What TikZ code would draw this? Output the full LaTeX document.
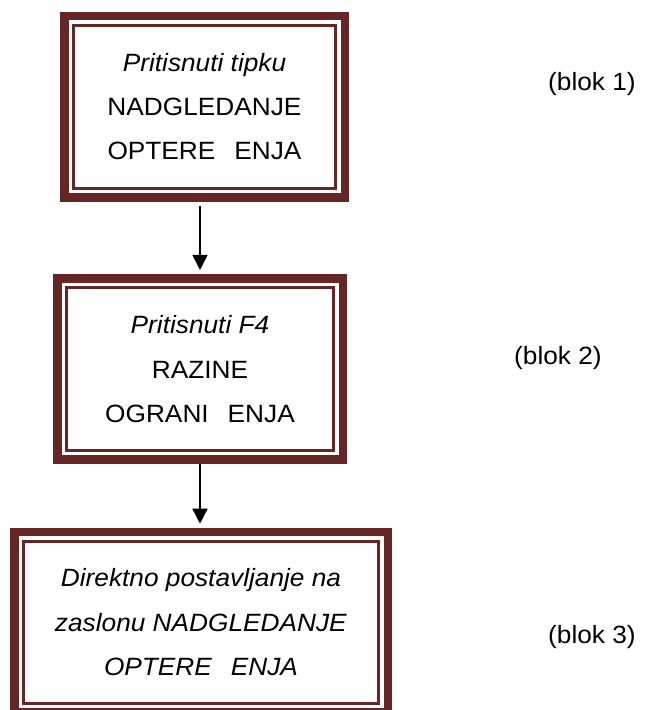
\documentclass[tikz,border=0pt]{standalone}
\usepackage{fontspec}
\setmainfont{Liberation Sans}[FakeStretch=1.05]
\usepackage{tikz}
\usetikzlibrary{arrows.meta}
\definecolor{framered}{HTML}{662626}

\begin{document}
\begin{tikzpicture}[x=1pt, y=-1pt,
      every node/.style={font=\fontsize{25}{44.3}\selectfont},
      blok/.style={draw=framered, line width=8.5pt, fill=white, inner sep=0pt,
                   align=center},
      inblok/.style={draw=framered, line width=3pt, inner sep=0pt},
      arr/.style={-{Triangle[length=15pt, width=15pt]}, line width=1.6pt, black}
    ]
    \useasboundingbox (0,0) rectangle (653,710);

    \node[blok, minimum width=280.5pt, minimum height=181.5pt] (b1) at (204.5, 106.7) {};
    \node[inblok, minimum width=262.1pt, minimum height=163.1pt] (i1) at (b1.center)
      [align=center] {\textit{Pritisnuti tipku}\\NADGLEDANJE\\OPTERE\phantom{C}ENJA};

    \node[blok, minimum width=285.5pt, minimum height=181.25pt] (b2) at (200, 369.1) {};
    \node[inblok, minimum width=267.1pt, minimum height=162.85pt] (i2) at (b2.center)
      [align=center] {\textit{Pritisnuti F4}\\RAZINE\\OGRANI\phantom{C}ENJA};

    \node[blok, minimum width=373.5pt, minimum height=180pt] (b3) at (201, 622.2) {};
    \node[inblok, minimum width=355.1pt, minimum height=161.6pt] (i3) at (b3.center)
      [align=center] {\textit{Direktno postavljanje na}\\\textit{zaslonu NADGLEDANJE}\\
       \textit{OPTERE\phantom{C}ENJA}};

    \coordinate (a1) at ([yshift=-4.25pt]b1.south -| b2.north);
    \coordinate (a2) at (b2.south);
    \draw[arr] (a1) -- ([yshift=4.25pt]b2.north);
    \draw[arr] (a2) -- ([yshift=4.25pt]b3.north -| b2.south);

    \node (l1) at (592, 84)  {(blok 1)};
    \node (l2) at (558, 358) {(blok 2)};
    \node (l3) at (592, 637) {(blok 3)};
  \end{tikzpicture}
\end{document}
